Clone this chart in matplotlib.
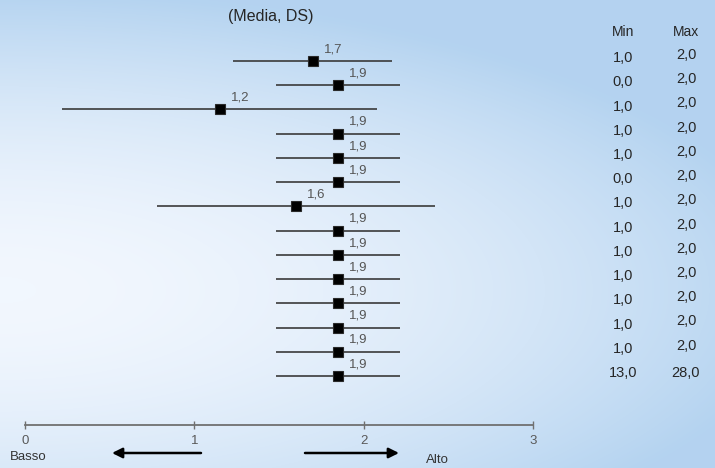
import numpy as np
import matplotlib.pyplot as plt
from matplotlib.colors import LinearSegmentedColormap

plt.rcParams['font.family'] = ['Liberation Sans', 'DejaVu Sans']

# data
means = [1.70, 1.85, 1.15, 1.85, 1.85, 1.85, 1.60, 1.85, 1.85, 1.85, 1.85, 1.85, 1.85, 1.85]
sds = [0.47, 0.365, 0.93, 0.365, 0.365, 0.365, 0.82, 0.365, 0.365, 0.365, 0.365, 0.365, 0.365, 0.365]
mean_labels = ["1,7", "1,9", "1,2", "1,9", "1,9", "1,9", "1,6",
               "1,9", "1,9", "1,9", "1,9", "1,9", "1,9", "1,9"]
mins = ["1,0", "0,0", "1,0", "1,0", "1,0", "0,0", "1,0",
        "1,0", "1,0", "1,0", "1,0", "1,0", "1,0", "13,0"]
maxs = ["2,0", "2,0", "2,0", "2,0", "2,0", "2,0", "2,0",
        "2,0", "2,0", "2,0", "2,0", "2,0", "2,0", "28,0"]
scale_ticks = [0, 1, 2, 3]
scale_labels = ["0", "1", "2", "3"]

W, H = 715, 468
fig = plt.figure(figsize=(W / 100, H / 100), dpi=100)

# background radial gradient
bg = fig.add_axes([0, 0, 1, 1], zorder=-10)
xx, yy = np.meshgrid(np.arange(W), np.arange(H))
t = np.sqrt((xx / 800.0) ** 2 + ((yy - 290) / 300.0) ** 2)
t = np.clip(t, 0, 1) ** 1.8
cmap = LinearSegmentedColormap.from_list("bg", ["#f2f7fe", "#b4d3f0"])
bg.imshow(t, cmap=cmap, vmin=0, vmax=1, aspect='auto', interpolation='bilinear')
bg.axis('off')

# main axes covers whole figure: x=0 at px 25, x=3 at px 533
ax = fig.add_axes([0, 0, 1, 1])
ax.patch.set_alpha(0)
ppu = (533 - 25) / 3.0
ax.set_xlim(-25 / ppu, (W - 25) / ppu)
row_step = 24.23
ax.set_ylim((H - 61) / row_step, -61 / row_step)

rows = np.arange(len(means))
ax.errorbar(means, rows, xerr=sds, fmt='s', color='#3a3a3a', ecolor='#3a3a3a',
            elinewidth=1.2, capsize=0, markersize=7, markerfacecolor='black',
            markeredgecolor='#2a2a2a', markeredgewidth=0.8)

for m, r, lab in zip(means, rows, mean_labels):
    ax.annotate(lab, (m, r), xytext=(8, 8.5), textcoords='offset points',
                ha='left', va='center', fontsize=9.5, color='#555555')

# min / max columns
ytr = ax.get_yaxis_transform()
for r, mn, mx in zip(rows, mins, maxs):
    ax.text(623 / W, r - 0.12, mn, transform=ytr,
            ha='center', va='center', fontsize=10.5, color='#262626')
    ax.text(686 / W, r - 0.25 if mx == "2,0" else r - 0.12, mx, transform=ytr,
            ha='center', va='center', fontsize=10.5, color='#262626')

fig.text(623 / W, 1 - 32 / H, "Min", ha='center', va='center', fontsize=10, color='#262626')
fig.text(686 / W, 1 - 32 / H, "Max", ha='center', va='center', fontsize=10, color='#262626')
fig.text(271 / W, 1 - 17 / H, "(Media, DS)", ha='center', va='center', fontsize=11.5, color='#262626')

# scale axis at the bottom
for s in ['top', 'right', 'left']:
    ax.spines[s].set_visible(False)
ax.spines['bottom'].set_position(('data', (425 - 61) / row_step))
ax.spines['bottom'].set_bounds(0, 3)
ax.spines['bottom'].set_color('#707070')
ax.spines['bottom'].set_linewidth(1.3)
ax.set_xticks(scale_ticks)
ax.set_xticklabels(scale_labels)
ax.tick_params(axis='x', direction='inout', length=6, width=1, color='#707070',
               labelsize=9.5, labelcolor='#595959', pad=4)
ax.set_yticks([])

# Basso / Alto arrows
y_arr = (453 - 61) / row_step
arrow = dict(arrowstyle='-|>', color='black', lw=1.8, mutation_scale=15, shrinkA=0, shrinkB=0)
ax.annotate("", xy=((112 - 25) / ppu, y_arr), xytext=((201 - 25) / ppu, y_arr), arrowprops=arrow)
ax.annotate("", xy=((399 - 25) / ppu, y_arr), xytext=((305 - 25) / ppu, y_arr), arrowprops=arrow)
fig.text(28 / W, 1 - 457 / H, "Basso", ha='center', va='center', fontsize=9.5, color='#333333')
fig.text(437 / W, 1 - 460 / H, "Alto", ha='center', va='center', fontsize=9.5, color='#333333')

fig.savefig("out.png", dpi=100)
